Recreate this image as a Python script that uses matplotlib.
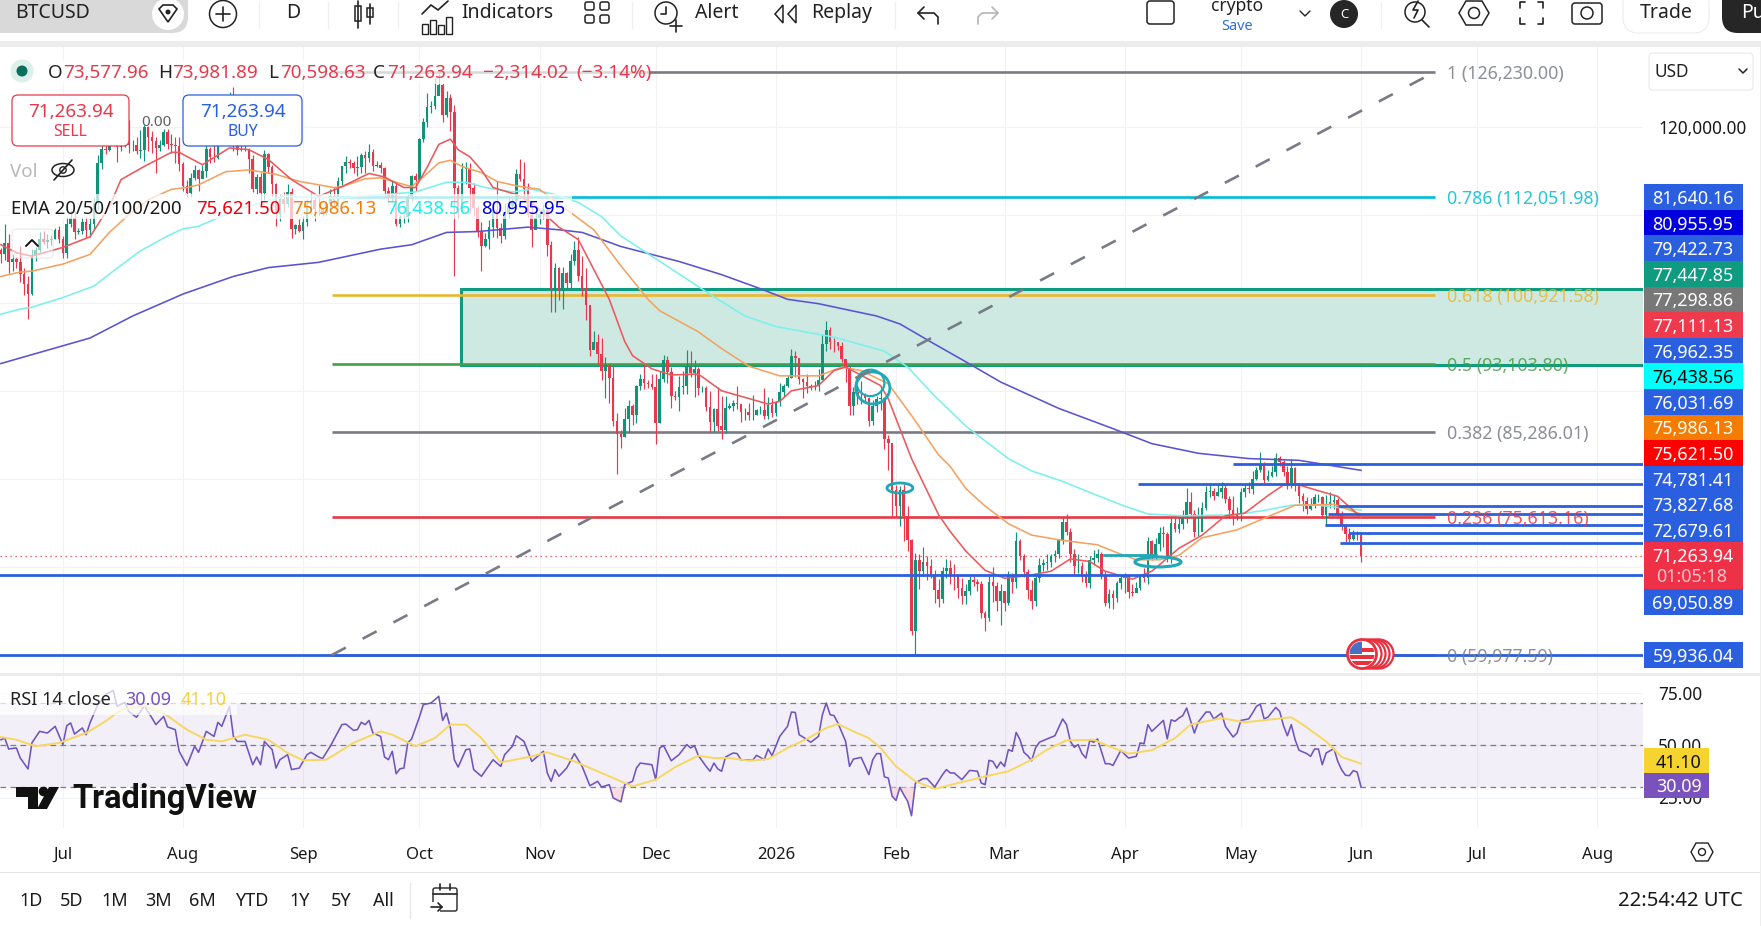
import numpy as np
import matplotlib
matplotlib.use("Agg")
import matplotlib.pyplot as plt
from matplotlib.patches import Rectangle, FancyBboxPatch, Circle, Ellipse, Polygon

plt.rcParams['font.family'] = ['Noto Sans', 'DejaVu Sans']

W, H = 1761, 926

# daily closes in thousand USD, one list per month
close_jun25 = [105.5, 106.8, 104.6, 105.0, 104.6, 103.3, 102.1, 101.0, 105.4, 106.0, 107.3, 106.9, 107.1, 107.3, 108.3, 107.2]
close_jul25 = [105.7, 108.9, 109.6, 108.0, 108.2, 109.2, 108.3, 109.0, 111.3, 115.9, 117.5, 117.4, 119.1, 120.0, 117.7, 118.7, 119.4, 117.9, 117.9, 117.3, 117.4, 120.0, 118.8, 118.4, 117.6, 117.9, 119.4, 118.0, 117.9, 117.8, 115.8]
close_aug25 = [113.3, 112.5, 114.2, 115.1, 114.1, 115.0, 117.5, 116.6, 116.5, 119.3, 118.7, 120.2, 123.3, 118.3, 117.4, 117.5, 117.5, 116.3, 112.9, 114.3, 112.5, 116.9, 115.4, 113.5, 110.1, 111.8, 111.2, 112.6, 108.4, 108.8, 108.2]
close_sep25 = [109.2, 111.2, 111.7, 110.7, 110.7, 110.2, 111.2, 112.1, 111.5, 113.9, 115.5, 116.0, 115.9, 115.3, 115.4, 116.8, 116.5, 117.1, 115.6, 115.7, 115.3, 112.7, 112.0, 113.3, 109.0, 109.7, 109.7, 112.1, 114.4, 114.0]
close_oct25 = [118.6, 120.6, 122.3, 122.4, 123.5, 124.8, 121.4, 123.3, 121.7, 113.0, 110.8, 115.2, 115.3, 113.0, 110.8, 108.2, 106.4, 107.2, 108.6, 110.6, 108.5, 107.6, 110.1, 111.0, 111.6, 114.6, 114.1, 112.9, 110.0, 108.3, 109.6]
close_nov25 = [110.1, 110.6, 106.6, 101.5, 103.9, 101.3, 103.4, 102.3, 104.7, 106.0, 103.0, 101.7, 99.7, 94.6, 95.6, 94.2, 92.2, 92.9, 91.5, 86.6, 85.1, 84.7, 86.8, 88.3, 87.3, 90.5, 91.3, 90.9, 90.8, 90.4]
close_dec25 = [86.3, 91.3, 93.5, 92.1, 89.4, 89.3, 90.4, 90.6, 92.7, 92.0, 92.5, 90.3, 90.3, 88.2, 86.4, 87.9, 86.0, 85.5, 88.1, 88.3, 88.6, 88.5, 87.6, 87.6, 87.2, 87.3, 87.8, 87.8, 87.1, 88.4, 87.5]
close_jan26 = [88.7, 89.9, 90.6, 91.4, 93.9, 93.7, 91.3, 91.0, 90.5, 90.4, 90.6, 91.2, 95.3, 96.9, 95.6, 95.5, 95.1, 93.6, 92.6, 88.3, 89.9, 89.5, 89.5, 89.2, 86.6, 88.3, 89.1, 89.2, 84.5, 84.1, 78.7]
close_feb26 = [76.9, 78.7, 75.8, 73.0, 62.7, 70.8, 69.5, 70.6, 70.1, 69.1, 67.4, 66.3, 69.5, 69.9, 69.1, 68.9, 67.6, 66.7, 67.3, 68.5, 68.3, 68.0, 64.8, 64.2, 68.3, 67.8, 66.1, 67.2]
close_mar26 = [65.9, 69.1, 68.3, 72.9, 71.2, 69.4, 67.4, 66.1, 68.7, 70.2, 70.4, 70.6, 71.2, 71.4, 73.0, 75.1, 74.0, 71.4, 70.1, 70.1, 69.1, 68.2, 70.8, 71.0, 71.5, 69.1, 65.9, 66.9, 66.5, 68.2, 68.7]
close_apr26 = [68.9, 67.1, 67.0, 67.6, 68.9, 68.7, 72.9, 71.2, 72.6, 73.8, 73.7, 70.9, 75.0, 74.3, 74.9, 75.6, 77.4, 76.0, 74.0, 74.0, 76.7, 78.5, 78.6, 78.0, 78.5, 79.0, 77.7, 76.5, 75.8, 76.0]
close_may26 = [78.5, 79.0, 78.8, 80.0, 81.0, 81.7, 79.9, 80.3, 80.8, 82.4, 81.9, 80.8, 79.3, 81.2, 79.3, 78.1, 77.5, 76.6, 76.9, 77.9, 77.9, 75.9, 77.0, 77.4, 77.6, 76.0, 74.6, 73.7, 73.2, 73.6, 73.578]
close_jun26 = [71.264]

high_jun25 = [106.2, 108.9, 107.8, 105.6, 105.2, 106.5, 104.0, 103.0, 106.1, 106.3, 108.0, 108.2, 107.8, 107.7, 108.5, 108.7]
high_jul25 = [107.6, 109.7, 110.5, 110.4, 108.5, 109.7, 109.7, 109.6, 111.9, 116.8, 118.8, 118.0, 119.5, 123.2, 119.9, 120.0, 120.9, 120.8, 118.5, 118.9, 119.6, 120.2, 120.1, 119.5, 118.9, 118.5, 119.8, 119.8, 119.2, 118.8, 118.9]
high_aug25 = [116.0, 114.0, 114.8, 115.7, 115.2, 115.7, 117.9, 117.7, 117.9, 119.3, 122.3, 120.3, 124.0, 124.5, 119.2, 118.0, 118.6, 117.6, 116.8, 114.6, 114.8, 117.4, 117.0, 115.7, 113.6, 112.4, 112.6, 113.5, 113.0, 108.9, 109.5]
high_sep25 = [109.9, 111.8, 112.5, 112.0, 113.4, 110.9, 111.6, 112.9, 113.2, 114.3, 115.6, 116.7, 116.3, 116.1, 116.7, 117.0, 117.3, 118.0, 117.5, 116.1, 116.0, 115.4, 113.2, 114.0, 113.6, 110.0, 110.0, 112.4, 114.5, 114.8]
high_oct25 = [118.7, 121.0, 123.9, 122.9, 125.6, 126.2, 125.0, 124.1, 123.7, 122.5, 113.4, 115.9, 116.0, 115.9, 113.6, 111.0, 109.2, 107.9, 109.4, 111.7, 113.9, 109.1, 111.3, 112.0, 111.9, 115.2, 116.4, 116.0, 113.6, 111.5, 111.1]
high_nov25 = [110.6, 111.2, 110.8, 107.0, 104.5, 104.1, 104.1, 103.5, 105.5, 107.0, 107.5, 105.3, 104.0, 99.8, 96.8, 96.5, 96.0, 93.8, 93.1, 92.8, 87.5, 85.5, 88.1, 89.0, 88.5, 90.7, 91.9, 93.0, 91.2, 91.9]
high_dec25 = [91.9, 92.3, 94.1, 94.0, 92.7, 90.0, 91.7, 92.3, 94.6, 94.5, 93.5, 92.7, 90.6, 90.5, 90.0, 88.1, 90.4, 89.4, 89.4, 88.6, 89.0, 90.5, 88.0, 88.0, 88.6, 89.5, 87.9, 88.3, 90.3, 89.3, 89.2]
high_jan26 = [88.8, 90.9, 90.8, 91.8, 94.8, 94.5, 93.7, 91.5, 91.9, 90.8, 91.1, 92.5, 96.5, 97.9, 97.2, 96.0, 95.6, 95.5, 93.4, 92.8, 90.4, 90.4, 91.1, 89.8, 89.3, 88.9, 89.4, 90.5, 89.3, 85.0, 84.0]
high_feb26 = [79.3, 79.2, 79.4, 76.9, 73.2, 71.6, 71.5, 72.3, 71.2, 70.9, 69.6, 68.6, 70.0, 70.9, 70.8, 70.3, 69.0, 68.7, 68.0, 68.9, 69.0, 68.6, 68.4, 65.0, 69.0, 70.0, 68.3, 68.0]
high_mar26 = [67.3, 69.5, 69.3, 74.0, 73.2, 71.5, 69.8, 68.5, 69.0, 71.0, 70.9, 71.4, 71.5, 71.9, 73.2, 75.6, 76.0, 74.4, 72.0, 71.5, 70.6, 69.5, 71.2, 71.9, 72.0, 71.7, 69.5, 67.5, 67.4, 68.4, 69.0]
high_apr26 = [69.3, 69.0, 68.0, 68.3, 69.2, 69.9, 73.4, 73.0, 73.3, 74.5, 74.6, 73.9, 75.5, 75.9, 75.7, 76.5, 78.9, 78.5, 76.5, 76.8, 77.4, 79.2, 79.4, 79.0, 79.4, 79.6, 79.3, 78.0, 78.0, 76.8]
high_may26 = [78.9, 79.4, 79.6, 80.9, 81.3, 83.0, 81.9, 81.0, 81.4, 82.9, 82.6, 82.1, 81.5, 82.2, 81.3, 79.5, 78.4, 77.9, 77.8, 78.3, 78.3, 78.0, 78.2, 78.5, 78.2, 77.8, 76.3, 74.9, 74.4, 74.2, 74.1]
high_jun26 = [73.982]

low_jun25 = [104.5, 104.9, 103.4, 103.6, 103.9, 102.4, 100.9, 98.2, 100.9, 104.7, 105.8, 106.7, 106.2, 106.6, 107.2, 106.8]
low_jul25 = [105.1, 105.1, 108.6, 107.3, 107.8, 107.8, 107.5, 107.5, 108.4, 110.6, 115.2, 116.9, 117.2, 118.9, 116.0, 117.2, 117.7, 117.0, 117.3, 116.9, 116.5, 116.1, 117.3, 117.0, 114.7, 117.2, 117.8, 117.5, 117.0, 115.9, 115.0]
low_aug25 = [112.7, 112.0, 112.0, 114.0, 112.7, 114.3, 114.3, 115.9, 116.0, 116.3, 118.0, 118.0, 118.9, 117.2, 116.8, 117.2, 117.3, 114.8, 112.6, 112.4, 111.6, 111.7, 114.8, 112.0, 108.7, 109.3, 110.3, 110.9, 107.4, 107.8, 108.0]
low_sep25 = [107.3, 108.7, 110.5, 109.3, 110.0, 109.9, 110.0, 110.7, 110.8, 110.9, 113.4, 114.7, 115.3, 114.8, 114.4, 114.8, 114.7, 116.0, 115.0, 115.4, 114.8, 112.0, 111.5, 111.5, 108.7, 108.6, 109.1, 109.2, 111.6, 112.7]
low_oct25 = [113.9, 118.3, 120.0, 121.6, 122.0, 124.0, 120.6, 121.1, 119.5, 103.0, 109.6, 110.2, 113.5, 110.2, 110.0, 107.5, 103.6, 106.3, 106.1, 107.5, 107.4, 106.8, 107.3, 109.6, 110.8, 111.3, 113.9, 111.5, 109.7, 106.3, 108.6]
low_nov25 = [109.0, 109.5, 105.3, 98.9, 98.9, 100.3, 99.3, 101.5, 101.4, 104.3, 102.5, 100.8, 98.0, 94.0, 94.9, 93.0, 91.2, 89.2, 88.6, 86.0, 80.6, 83.5, 84.7, 85.3, 86.1, 86.3, 90.1, 90.2, 90.3, 90.2]
low_dec25 = [83.9, 86.3, 91.0, 90.9, 88.0, 88.9, 87.7, 89.6, 89.6, 91.6, 89.3, 89.5, 89.9, 87.7, 85.3, 85.3, 85.4, 84.5, 85.2, 87.9, 87.7, 87.9, 86.5, 86.7, 86.7, 86.7, 87.3, 87.4, 86.8, 86.8, 87.0]
low_jan26 = [87.1, 88.3, 89.3, 90.4, 91.5, 91.6, 90.8, 89.2, 89.7, 90.1, 90.1, 90.0, 91.2, 94.5, 94.8, 94.4, 94.6, 93.3, 91.0, 87.3, 87.2, 88.5, 88.5, 88.7, 86.0, 86.1, 87.6, 87.8, 83.4, 81.0, 75.7]
low_feb26 = [75.7, 74.6, 72.9, 71.8, 62.3, 60.0, 67.5, 68.9, 68.5, 68.7, 65.9, 65.4, 65.9, 68.7, 68.0, 67.4, 66.4, 65.8, 65.8, 66.8, 67.8, 67.2, 64.2, 62.7, 63.8, 66.0, 65.0, 63.4]
low_mar26 = [65.0, 65.7, 67.0, 67.6, 70.8, 68.8, 66.3, 65.2, 65.6, 68.3, 69.5, 69.6, 70.0, 70.6, 71.0, 72.6, 73.6, 70.6, 69.1, 69.3, 68.3, 67.7, 67.6, 70.2, 70.6, 68.6, 65.5, 65.3, 65.2, 66.0, 67.5]
low_apr26 = [67.0, 66.5, 66.7, 67.3, 67.4, 68.3, 68.0, 70.8, 70.9, 71.8, 72.2, 70.5, 70.4, 73.9, 73.8, 74.3, 75.0, 75.6, 73.4, 73.5, 75.0, 76.5, 77.9, 77.6, 78.0, 77.8, 77.3, 75.5, 74.8, 75.3]
low_may26 = [75.2, 77.9, 78.4, 78.3, 79.9, 80.8, 79.5, 79.8, 80.2, 80.3, 81.5, 80.3, 78.8, 78.9, 78.6, 77.3, 76.3, 76.0, 76.4, 76.7, 77.4, 75.5, 74.6, 76.7, 76.6, 75.6, 74.2, 72.8, 72.6, 73.1, 73.0]
low_jun26 = [70.599]

first_open = 106.0

# EMAs, as days back from the last candle and thousand USD
ema20_back = [351, 347, 343, 335, 328, 323, 320, 314, 307, 305, 299, 292, 287, 282, 276, 269, 263, 256, 252, 247, 244, 241, 238, 235, 233, 230, 227, 224, 218, 214, 207, 202, 198, 194, 190, 188, 183, 178, 171, 165, 153, 150, 147, 140, 136, 133, 124, 122, 116, 109, 106, 102, 97, 92, 86, 80, 75, 70, 66, 59, 54, 47, 41, 35, 30, 24, 20, 16, 6, 0]
ema20_vals = [106.6, 105.7, 105.3, 106.3, 107.5, 110.95, 114.0, 115.5, 117.1, 117.1, 115.7, 117.6, 117.4, 116.3, 114.0, 112.1, 113.2, 114.7, 114.3, 113.1, 113.1, 115.4, 118.0, 118.6, 117.4, 116.6, 115.1, 113.1, 112.3, 111.4, 108.6, 107.2, 103.8, 100.4, 95.6, 94.0, 92.5, 91.8, 91.9, 90.0, 88.5, 88.8, 90.0, 90.6, 92.3, 92.7, 90.6, 89.1, 82.3, 75.9, 74.0, 71.8, 69.6, 68.7, 69.0, 69.5, 70.9, 70.6, 69.5, 68.6, 69.5, 72.1, 73.6, 75.8, 76.1, 78.1, 79.3, 79.3, 78.0, 75.62]
ema50_back = [351, 346, 343, 335, 328, 323, 318, 313, 307, 303, 300, 293, 287, 280, 274, 265, 263, 257, 253, 249, 245, 242, 238, 235, 232, 227, 223, 218, 212, 205, 198, 191, 184, 181, 171, 165, 158, 150, 140, 134, 129, 122, 116, 109, 106, 102, 97, 91, 85, 77, 68, 63, 58, 52, 47, 41, 32, 24, 17, 7, 0]
ema50_vals = [103.0, 103.5, 103.6, 104.4, 105.5, 108.0, 110.0, 111.7, 112.9, 113.1, 113.4, 114.9, 115.1, 114.6, 113.8, 113.1, 113.2, 114.1, 114.2, 113.7, 113.2, 114.3, 115.9, 116.2, 115.5, 114.8, 113.8, 113.3, 112.9, 110.6, 108.3, 104.2, 100.4, 99.1, 96.7, 94.8, 92.8, 91.7, 91.7, 92.7, 92.3, 90.8, 87.2, 82.7, 81.4, 78.9, 76.9, 74.9, 73.6, 73.0, 72.5, 71.6, 70.8, 70.8, 71.3, 73.3, 74.2, 75.7, 77.0, 77.1, 75.99]
ema100_back = [351, 346, 343, 335, 327, 322, 315, 308, 304, 300, 290, 278, 265, 252, 244, 236, 231, 226, 219, 214, 208, 202, 196, 191, 166, 159, 151, 136, 123, 117, 110, 102, 97, 91, 85, 77, 68, 61, 55, 46, 33, 25, 18, 11, 0]
ema100_vals = [98.7, 99.3, 99.5, 100.6, 101.9, 103.6, 105.9, 107.6, 108.4, 108.7, 110.6, 112.1, 111.9, 112.3, 112.6, 113.7, 113.7, 113.1, 112.6, 112.9, 112.3, 111.4, 109.8, 107.6, 100.4, 98.5, 97.3, 96.1, 94.5, 92.7, 89.4, 86.0, 84.3, 82.3, 80.9, 79.7, 78.1, 76.9, 76.0, 75.8, 75.9, 76.4, 77.0, 77.0, 76.44]
ema200_back = [351, 328, 317, 304, 291, 282, 269, 253, 245, 236, 228, 215, 207, 201, 191, 176, 165, 155, 148, 140, 125, 119, 110, 102, 93, 78, 64, 54, 42, 29, 16, 0]
ema200_vals = [93.1, 96.0, 98.5, 101.0, 103.0, 104.0, 104.6, 106.1, 106.6, 108.0, 108.1, 108.6, 108.3, 108.0, 106.4, 104.7, 103.2, 101.6, 100.4, 99.9, 98.5, 97.6, 95.3, 93.3, 91.0, 88.0, 85.7, 84.0, 82.9, 82.3, 82.1, 80.96]

# RSI and its moving average, day number from the first candle
rsi_days = [0, 1, 2, 4, 5, 7, 8, 10, 12, 14, 16, 17, 18, 19, 21, 22, 23, 25, 27, 29, 30, 32, 33, 35, 37, 39, 40, 42, 43, 45, 46, 48, 50, 51, 53, 55, 56, 57, 59, 60, 61, 63, 65, 66, 67, 68, 70, 71, 72, 74, 75, 77, 79, 80, 82, 83, 85, 88, 89, 91, 92, 93, 94, 95, 96, 98, 99, 100, 101, 102, 103, 104, 105, 106, 108, 109, 111, 113, 114, 115, 116, 117, 118, 120, 121, 122, 124, 127, 129, 130, 132, 133, 135, 137, 140, 141, 142, 143, 144, 146, 148, 150, 152, 154, 155, 157, 158, 160, 161, 163, 164, 165, 168, 169, 170, 171, 173, 175, 177, 178, 179, 180,
            182, 183, 184, 185, 186, 187, 189, 190, 191, 194, 195, 197, 198, 199, 201, 203, 204, 205, 206, 207, 209, 211, 212, 213, 214, 215, 216, 218, 219, 220, 222, 224, 225, 226, 227, 228, 229, 230, 231, 232, 233, 234, 235, 236, 238, 239, 241, 243, 244, 245, 246, 248, 250, 252, 253, 254, 255, 256, 257, 258, 259, 260, 261, 262, 263, 264, 265, 266, 267, 268, 270, 272, 274, 275, 276, 277, 278, 279, 280, 281, 282, 283, 285, 286, 287, 289, 291, 293, 294, 295, 296, 297, 300, 301, 302, 303, 304, 305, 306, 308, 309, 311, 312, 313, 315, 316, 318, 319, 320, 322, 323, 324, 325, 326, 327, 329, 330, 331, 332, 333, 334, 335, 337, 338, 339, 340, 341, 342, 344, 345, 346, 347, 348, 349, 350, 351]
rsi_vals = [52.5, 53.3, 48.1, 48.6, 43.8, 38.6, 51, 56.5, 55.7, 58.9, 50.2, 59.2, 60.5, 55.2, 58.1, 54.9, 60.5, 69.2, 74, 76, 68.4, 70.3, 66, 63.2, 68.7, 62.8, 59.7, 63.6, 58.6, 57.3, 47, 40.2, 49.4, 46.5, 56.5, 54.1, 60.8, 58.9, 68.4, 54.1, 51.7, 51.7, 40.6, 44.3, 40.6, 51.7, 47.8, 39, 43, 45.4, 38.3, 39, 45.4, 46.5, 44.3, 43.5, 49.4, 59.7, 60, 57, 57.3, 60.8, 59.7, 61.7, 55.7, 54.1, 44.3, 43, 47, 36.3, 38.7, 39, 51, 52.9, 63.3, 69.2, 70, 73.2, 61.7, 65.2, 58.1, 43, 39.5, 47.8, 48.1, 38.3, 35.1, 43, 39.8, 45.4, 49.4, 54.4, 51.7, 42.2, 47, 36.7, 32.7, 38.3, 35.1, 39, 45.9, 39.8, 30.6, 32.7, 30, 31.1, 24.8, 22.9, 31.1, 32.7, 39, 41.4, 40.6, 33.5, 48.6, 49.7, 42.5, 45.4, 50.2, 48.6, 49.7, 44.9,
            39.8, 37.5, 41.4, 38.6, 37.5, 44.3, 46.2, 45.9, 43, 42.7, 45.1, 43, 48.1, 44.9, 54.1, 58.9, 65.7, 65.5, 54.9, 53.8, 51.3, 54.1, 64.4, 70, 64.4, 64, 60.5, 51.7, 39.8, 43.3, 44.1, 35.9, 43, 45.9, 45.9, 34.8, 34.3, 25.6, 23.6, 29.8, 26.3, 23.2, 16.3, 31.9, 34, 34, 30, 35.9, 38.3, 36.7, 36.7, 33.5, 37.9, 37.5, 31.9, 31.1, 42.7, 42.2, 39, 41.9, 39.8, 47.8, 47, 56, 52.5, 46.5, 44.9, 42.5, 48.6, 51.3, 52.9, 54.4, 62.4, 59.7, 51.7, 48.9, 50.2, 45.9, 43.8, 52.2, 51.3, 52.9, 41.1, 41.1, 40.3, 47.4, 43.8, 44.6, 51, 50.6, 59.7, 56.5, 61.7, 52.9, 62, 61.3, 62.8, 64, 67.6, 55.7, 60.9, 65.7, 65.7, 62.4, 65.2, 58.9, 53.8, 55.7, 61.7, 62.4, 65.2, 68.4, 69.5, 62.4, 63.3, 67.9, 66, 59.2, 54.4, 59.7, 52.5, 47.5, 45.9, 44.6, 48.1, 48.1, 40.6, 46.2, 48.3, 42.2, 38.2, 35.6, 35.4, 37.8, 37.1, 30.09]
rsi_ma_days = [0, 4, 9, 15, 22, 27, 31, 37, 42, 48, 53, 57, 63, 69, 74, 78, 84, 91, 98, 101, 107, 112, 116, 120, 124, 129, 137, 141, 148, 155, 163, 169, 174, 180, 184, 188, 193, 198, 203, 208, 213, 216, 220, 224, 227, 231, 236, 241, 247, 254, 260, 266, 270, 275, 282, 286, 291, 297, 303, 307, 315, 321, 333, 336, 342, 346, 351]
rsi_ma_vals = [53.8, 52.5, 49.4, 51, 55.7, 61.3, 66.8, 68.7, 65.2, 57.3, 52.5, 51.7, 54.9, 52.5, 46.2, 42.7, 43, 51, 56.5, 54.9, 49.4, 53.3, 59.7, 59.7, 53.3, 41.7, 44.6, 46.5, 42.2, 36.7, 30.3, 33.5, 39.5, 44.9, 43.8, 43.8, 42.5, 43.3, 48.6, 52.9, 58.1, 60, 56.5, 53.3, 48.6, 39.8, 32.7, 29.1, 31.9, 35, 37.5, 43, 47.8, 52.2, 52.5, 49.4, 45.9, 47.5, 53.3, 59.7, 62.8, 60.8, 63.2, 59.7, 51.7, 44.3, 41.1]

month_days = [16, 47, 78, 108, 139, 169, 200, 231, 259, 290, 320, 351, 381, 412]
month_labels = ['Jul', 'Aug', 'Sep', 'Oct', 'Nov', 'Dec', '2026', 'Feb', 'Mar', 'Apr', 'May', 'Jun', 'Jul', 'Aug']

fib_ratios = ['1', '0.786', '0.618', '0.5', '0.382', '0.236', '0']
fib_prices = [126230.00, 112051.98, 100921.58, 93103.80, 85286.01, 75613.16, 59977.59]
fib_colors = ['#787b86', '#00bcd4', '#e9b82f', '#43a047', '#787b86', '#e53945', '#787b86']

level_prices = [81640.16, 79422.73, 76962.35, 76031.69, 74781.41, 73827.68, 72679.61, 69050.89, 59936.04]
level_starts = [318, 293.5, 345, 342.5, 341.7, 348, 345.6, -1, -1]

scale_badges = [('81,640.16', '#2a5fe0', 'white'), ('80,955.95', '#0000dc', 'white'), ('79,422.73', '#2a5fe0', 'white'),
                ('77,447.85', '#0e9b7f', 'white'), ('77,298.86', '#787878', 'white'), ('77,111.13', '#ef3a4e', 'white'),
                ('76,962.35', '#2a5fe0', 'white'), ('76,438.56', '#00ffff', 'black'), ('76,031.69', '#2a5fe0', 'white'),
                ('75,986.13', '#f57c00', 'white'), ('75,621.50', '#ff0000', 'white'), ('74,781.41', '#2a5fe0', 'white'),
                ('73,827.68', '#2a5fe0', 'white'), ('72,679.61', '#2a5fe0', 'white')]

GREEN = '#0f9478'
RED = '#e63a4c'
BLUE = '#2a5fe0'
TEAL = '#1fa8b8'
TOP, BOTTOM, RIGHT = 47, 673, 1643
usd_per_px = 113.64

closes = np.array(close_jun25 + close_jul25 + close_aug25 + close_sep25 + close_oct25 + close_nov25 + close_dec25 + close_jan26 + close_feb26 + close_mar26 + close_apr26 + close_may26 + close_jun26) * 1000
highs = np.array(high_jun25 + high_jul25 + high_aug25 + high_sep25 + high_oct25 + high_nov25 + high_dec25 + high_jan26 + high_feb26 + high_mar26 + high_apr26 + high_may26 + high_jun26) * 1000
lows = np.array(low_jun25 + low_jul25 + low_aug25 + low_sep25 + low_oct25 + low_nov25 + low_dec25 + low_jan26 + low_feb26 + low_mar26 + low_apr26 + low_may26 + low_jun26) * 1000
opens = np.concatenate(([first_open * 1000], closes[:-1]))
days = np.arange(len(closes))
last_day = days[-1]


def pane(x0, y0, x1, y1):
    return fig.add_axes([x0 / W, 1 - y1 / H, (x1 - x0) / W, (y1 - y0) / H])


def label(x, y, text, **kw):
    # Noto sits high in its line box, so nudge it down
    kw.setdefault('va', 'center')
    kw.setdefault('zorder', 6)
    return ui.text(x, y + 2, text, **kw)


def badge(y, text, bg, fg, height=25.6):
    ui.add_patch(Rectangle((1644, y - height / 2), 99, height, color=bg, lw=0, zorder=5))
    label(1693, y, text, color=fg, ha='center', fontsize=12.9)


def icon_line(xs, ys, color='#222222', lw=1.2):
    ui.plot(xs, ys, color=color, lw=lw, solid_capstyle='round', zorder=6)


fig = plt.figure(figsize=(W / 100, H / 100), dpi=100, facecolor='white')

# ---- price pane
ax = pane(0, TOP, RIGHT, BOTTOM)
ax.set_xlim(-0.23, (RIGHT - 0.9) / 3.875)
ax.set_ylim(126230 + (72 - BOTTOM) * usd_per_px, 126230 + (72 - TOP) * usd_per_px)
for s in ax.spines.values():
    s.set_visible(False)
ax.set_xticks(month_days)
ax.set_xticklabels([])
ax.yaxis.tick_right()
ax.set_yticks(range(60000, 130000, 10000))
ax.set_yticklabels([f'{v:,.2f}' if v == 120000 else '' for v in range(60000, 130000, 10000)], fontsize=12.4, color='#1a1a1a')
ax.tick_params(length=0, pad=11)
ax.grid(color='#f1f2f6', lw=0.8)
ax.set_axisbelow(True)

# fibonacci retracement: anchored trend line and levels
fib_start = 85.4
fib_end = last_day + 19
for ratio, price, color in zip(fib_ratios, fib_prices, fib_colors):
    ax.plot([fib_start, fib_end], [price, price], color=color, lw=1.9, zorder=1.5, solid_capstyle='butt')
ax.plot([fib_start, fib_end], [fib_prices[-1], fib_prices[0]], color='#787b86', lw=1.9, ls=(0, (6, 7.2)), zorder=4)

# supply zone
zone_left = (461 - 0.9) / 3.875
ax.add_patch(Rectangle((zone_left, 92950), 500, 101550 - 92950, facecolor='#cde9e2', edgecolor='#0e9b7f', lw=2.2, zorder=1.2))

# candles
up = closes >= opens
colors = np.where(up, GREEN, RED)
ax.vlines(days, lows, highs, colors=colors, lw=0.85, zorder=2)
ax.bar(days, np.abs(closes - opens), bottom=np.minimum(opens, closes), width=0.68, color=colors, lw=0, zorder=2.1)

# moving averages
ax.plot(last_day - np.array(ema200_back), np.array(ema200_vals) * 1000, color='#5b52d2', lw=1.15, zorder=3)
ax.plot(last_day - np.array(ema100_back), np.array(ema100_vals) * 1000, color='#7cf0ec', lw=1.15, zorder=3)
ax.plot(last_day - np.array(ema50_back), np.array(ema50_vals) * 1000, color='#f4a261', lw=1.15, zorder=3)
ax.plot(last_day - np.array(ema20_back), np.array(ema20_vals) * 1000, color='#ea5a5c', lw=1.15, zorder=3)

# horizontal levels drawn by hand
for price, start in zip(level_prices, level_starts):
    ax.plot([start, 500], [price, price], color=BLUE, lw=2.0, zorder=3.5, solid_capstyle='butt')

# brush marks
for center, w, h, brush in [((225, 90320), 8.8, 3640, 2.0), ((224.4, 90900), 7.2, 3000, 1.6),
                            ((232, 78955), 6.7, 1140, 2.0), ((298.6, 70550), 11.9, 1136, 2.2)]:
    ax.add_patch(Ellipse(center, w, h, fill=False, edgecolor=TEAL, lw=brush, zorder=3.8))
ax.plot([284.7, 298], [71342, 71342], color=TEAL, lw=2.0, zorder=3.8)

# last price
ax.axhline(closes[-1], color=RED, lw=0.9, ls=(0, (1, 3)), zorder=1.8)

# ---- RSI pane
rsi_ax = pane(0, 676, RIGHT, 828)
rsi_ax.set_xlim(ax.get_xlim())
rsi_ax.set_ylim(30 - 41 / 2.1, 70 + 27 / 2.1)
for s in rsi_ax.spines.values():
    s.set_visible(False)
rsi_ax.set_xticks(month_days)
rsi_ax.set_xticklabels(month_labels, fontsize=12, color='#1a1a1a')
rsi_ax.get_xticklabels()[6].set_fontweight('bold')
rsi_ax.yaxis.tick_right()
rsi_ax.set_yticks([25, 50, 75])
rsi_ax.set_yticklabels(['25.00', '50.00', '75.00'], fontsize=12.4, color='#1a1a1a')
rsi_ax.tick_params(length=0)
rsi_ax.tick_params(axis='x', pad=13.5)
rsi_ax.tick_params(axis='y', pad=11)
rsi_ax.grid(color='#f1f2f6', lw=0.8)
rsi_ax.set_axisbelow(True)
rsi_ax.axhspan(30, 70, color='#7e57c2', alpha=0.09, lw=0, zorder=1)
for lvl in [70, 50, 30]:
    rsi_ax.axhline(lvl, color='#787b86', lw=0.9, ls=(0, (4.5, 3.5)), zorder=1.5)
rsi_days_arr = np.array(rsi_days, dtype=float)
rsi_vals_arr = np.array(rsi_vals)
rsi_ax.fill_between(rsi_days_arr, rsi_vals_arr, 30, where=rsi_vals_arr < 30, color='#f6c6cc', alpha=0.6, lw=0, interpolate=True, zorder=2)
rsi_ax.plot(rsi_days_arr, rsi_vals_arr, color='#6f55bd', lw=1.15, zorder=3)
rsi_ax.plot(rsi_ma_days, rsi_ma_vals, color='#f6d860', lw=1.4, zorder=3.2)

# ---- screen furniture, in pixel coordinates
ui = fig.add_axes([0, 0, 1, 1], zorder=10)
ui.set_xlim(0, W)
ui.set_ylim(H, 0)
ui.axis('off')
ui.patch.set_alpha(0)

ui.add_patch(Rectangle((0, 41), W, 6, color='#ececec', lw=0))
ui.add_patch(Rectangle((0, 673), W, 2.5, color='#ececec', lw=0))
ui.add_patch(Rectangle((0, 871.5), W, 1.2, color='#e6e6e6', lw=0))
ui.add_patch(Rectangle((1759.5, 47), 1.5, 880, color='#eeeeee', lw=0))

# washed rows under the legends
ui.add_patch(Rectangle((38, 60), 612, 24, color='white', alpha=0.72, lw=0, zorder=1))
ui.add_patch(Rectangle((0, 194), 572, 25, color='white', alpha=0.72, lw=0, zorder=1))
ui.add_patch(Rectangle((0, 688), 237, 27, color='white', alpha=0.72, lw=0, zorder=1))

# toolbar
ui.add_patch(FancyBboxPatch((-20, -20), 208, 53, boxstyle='round,pad=0,rounding_size=16', facecolor='#d9d9d9', edgecolor='none'))
label(15, 11, 'BTCUSD', fontsize=14, color='#222222')
ui.add_patch(Circle((168, 14), 16, color='white', lw=0))
ui.add_patch(Polygon([(159, 9), (163, 5), (173, 5), (177, 9), (168, 22)], fill=False, edgecolor='#222222', lw=1.2))
ui.add_patch(Circle((168, 12), 2.5, color='#222222', lw=0))
ui.add_patch(Circle((223, 14), 13.5, fill=False, edgecolor='#222222', lw=1.1))
icon_line([223, 223], [7, 21])
icon_line([216, 230], [14, 14])
for sx in [259, 328, 398, 632, 895, 1381]:
    icon_line([sx, sx], [2, 28], color='#f0f0f0', lw=1)
label(293, 11, 'D', fontsize=14, color='#222222', ha='center')
for cx, y0, y1, w0, w1 in [(358, 3, 22, 6, 19), (370, 6, 18, 8, 15)]:
    ui.add_patch(Rectangle((cx - 3, w0), 6, w1 - w0 + 2, fill=False, edgecolor='#222222', lw=1.1))
    icon_line([cx, cx], [y0 - 2, y1 + 6])
for bx, bt in [(422, 16), (430, 12), (438, 17), (446, 9)]:
    ui.add_patch(Rectangle((bx, bt + 8), 6, 26 - bt, fill=False, edgecolor='#222222', lw=1))
icon_line([422, 431, 438, 448], [14, 5, 10, 1])
label(461, 11, 'Indicators', fontsize=14, color='#222222')
for gx, gy in [(585, 2), (600, 2), (585, 15), (600, 15)]:
    ui.add_patch(FancyBboxPatch((gx, gy), 9, 8, boxstyle='round,pad=0,rounding_size=2', fill=False, edgecolor='#222222', lw=1.1))
ui.add_patch(Circle((666, 13), 11, fill=False, edgecolor='#222222', lw=1.1))
icon_line([666, 666, 661], [7, 14, 14])
icon_line([670, 682], [26, 26])
icon_line([676, 676], [20, 32])
label(695, 11, 'Alert', fontsize=14, color='#222222')
ui.add_patch(Polygon([(783, 5), (775, 14), (783, 23)], fill=False, edgecolor='#222222', lw=1.1))
ui.add_patch(Polygon([(796, 5), (788, 14), (796, 23)], fill=False, edgecolor='#222222', lw=1.1))
label(811, 11, 'Replay', fontsize=14, color='#222222')
icon_line([924, 918, 924], [7, 13, 19])
icon_line([918, 934, 938, 938], [13, 13, 17, 24])
icon_line([992, 998, 992], [7, 13, 19], color='#b5b5b5')
icon_line([998, 982, 978, 978], [13, 13, 17, 24], color='#b5b5b5')
ui.add_patch(FancyBboxPatch((1147, 1), 27, 23, boxstyle='round,pad=0,rounding_size=3', fill=False, edgecolor='#222222', lw=1.1))
label(1237, 4, 'crypto', fontsize=12.6, color='#222222', ha='center')
label(1237, 24, 'Save', fontsize=10.5, color='#2f6fe0', ha='center')
icon_line([1300, 1305, 1310], [11, 16, 11], lw=1)
ui.add_patch(Circle((1344, 14), 14, color='#262626', lw=0))
label(1344, 12, 'C', fontsize=9.5, color='white', ha='center')
ui.add_patch(Circle((1415, 12), 10, fill=False, edgecolor='#222222', lw=1.1))
icon_line([1422, 1429], [20, 27])
icon_line([1418, 1413, 1418, 1414], [1, 10, 10, 18])
ui.add_patch(Polygon([(1459, 13), (1466, 1), (1482, 1), (1489, 13), (1482, 25), (1466, 25)], fill=False, edgecolor='#222222', lw=1.1))
ui.add_patch(Circle((1474, 13), 5.5, fill=False, edgecolor='#222222', lw=1.1))
for sx, sy in [(1520, 2), (1543, 2), (1520, 24), (1543, 24)]:
    dx = 5 if sx < 1530 else -5
    dy = 6 if sy < 10 else -6
    icon_line([sx + dx, sx, sx], [sy, sy, sy + dy])
ui.add_patch(FancyBboxPatch((1572, 3), 30, 21, boxstyle='round,pad=0,rounding_size=3', fill=False, edgecolor='#222222', lw=1.1))
ui.add_patch(Circle((1587, 13), 6, fill=False, edgecolor='#222222', lw=1.1))
ui.add_patch(FancyBboxPatch((1623, -15), 86, 48, boxstyle='round,pad=0,rounding_size=16', facecolor='white', edgecolor='#ededed', lw=0.8))
label(1666, 11, 'Trade', fontsize=14, color='#222222', ha='center')
ui.add_patch(FancyBboxPatch((1722, -15), 60, 48, boxstyle='round,pad=0,rounding_size=16', facecolor='#262626', edgecolor='none'))
label(1741, 11, 'Pu', fontsize=14, color='white')

# legend rows
ui.add_patch(Circle((22, 71), 11.5, color='#dcefeb', lw=0))
ui.add_patch(Circle((22, 71), 5.5, color='#0a6e5c', lw=0))
header = [(48, 'O', '#222222'), (63, '73,577.96', RED), (158, 'H', '#222222'), (172, '73,981.89', RED), (268, 'L', '#222222'),
          (280, '70,598.63', RED), (373, 'C', '#222222'), (387, '71,263.94', RED), (483, '\u22122,314.02', RED), (576, '(\u22123.14%)', RED)]
for hx, txt, col in header:
    label(hx, 71, txt, fontsize=13.6, color=col)

for x0, w, col, tag in [(12, 117, RED, 'SELL'), (183, 119, BLUE, 'BUY')]:
    ui.add_patch(FancyBboxPatch((x0, 95), w, 51, boxstyle='round,pad=0,rounding_size=6', facecolor='white', edgecolor=col, lw=0.9, zorder=3))
    label(x0 + w / 2, 110, '71,263.94', fontsize=13.6, color=col, ha='center')
    label(x0 + w / 2, 130, tag, fontsize=11.4, color=col, ha='center')
label(156, 121, '0.00', fontsize=11, color='#444444', ha='center', alpha=0.85)

label(10, 170, 'Vol', fontsize=13.5, color='#b8b8b8')
ui.add_patch(Ellipse((63, 170), 22, 13, fill=False, edgecolor='#222222', lw=1.1, zorder=6))
ui.add_patch(Circle((63, 170), 3.2, fill=False, edgecolor='#222222', lw=1, zorder=6))
icon_line([54, 72], [180, 160])

label(11, 207, 'EMA 20/50/100/200', fontsize=13.4, color='#1a1a1a')
for ex, txt, col in [(196, '75,621.50', '#e8000e'), (292, '75,986.13', '#f57c00'), (386, '76,438.56', '#19f0f0'), (481, '80,955.95', '#0000dc')]:
    label(ex, 207, txt, fontsize=13.4, color=col)

ui.add_patch(FancyBboxPatch((12, 229), 41, 29, boxstyle='round,pad=0,rounding_size=4', facecolor='white', alpha=0.55, edgecolor='#d5d5d5', lw=0.8, zorder=3))
icon_line([26, 32, 38], [246, 240, 246], color='#111111', lw=1.4)

# fibonacci labels
for price, ratio, color in zip(fib_prices, fib_ratios, fib_colors):
    label(1447, 72 + (126230 - price) / usd_per_px, f'{ratio} ({price:,.2f})', fontsize=12.8, color=color, alpha=0.85, zorder=2)

# price scale
ui.add_patch(FancyBboxPatch((1649, 53), 104, 37, boxstyle='round,pad=0,rounding_size=4', facecolor='white', edgecolor='#e8e8e8', lw=0.8, zorder=4))
label(1654, 70, 'USD', fontsize=12.4, color='#222222')
icon_line([1739, 1743, 1747], [69, 73, 69], lw=1.1)
for i, (txt, bg, fg) in enumerate(scale_badges):
    badge(197 + i * 25.6, txt, bg, fg)
ui.add_patch(Rectangle((1644, 542), 99, 48, color='#ef3148', lw=0, zorder=5))
label(1693, 555, '71,263.94', color='white', ha='center', fontsize=12.9)
label(1692, 575, '01:05:18', color='#fbc3c9', ha='center', fontsize=12.9)
badge(602, '69,050.89', BLUE, 'white')
badge(655, '59,936.04', BLUE, 'white')
ui.add_patch(Rectangle((1644, 748), 65, 25, color='#f7d330', lw=0, zorder=5))
label(1679, 760.5, '41.10', color='#111111', ha='center', fontsize=12.9)
ui.add_patch(Rectangle((1644, 773), 65, 25, color='#7a52bd', lw=0, zorder=5))
label(1679, 785.5, '30.09', color='white', ha='center', fontsize=12.9)

# event flags on the time line
for fx in [1379, 1375, 1371, 1367]:
    ui.add_patch(Circle((fx, 654), 14.5, facecolor='white', edgecolor='#e8303f', lw=1.6, zorder=4))
flag_edge = Circle((1362, 654), 14.5, facecolor='white', edgecolor='#e8303f', lw=2, zorder=4)
ui.add_patch(flag_edge)
for sy in [648, 655, 661]:
    stripe = Rectangle((1346, sy), 32, 3.5, color='#e8303f', lw=0, zorder=4.1)
    ui.add_patch(stripe)
    stripe.set_clip_path(Circle((1362, 654), 12.5, transform=ui.transData))
canton = Rectangle((1348, 641), 14, 13, color='#4a6fc0', lw=0, zorder=4.2)
ui.add_patch(canton)
canton.set_clip_path(Circle((1362, 654), 12.5, transform=ui.transData))

# RSI legend and watermark
label(10, 698, 'RSI 14 close', fontsize=13, color='#222222')
label(125, 698, '30.09', fontsize=13, color='#7a52bd')
label(181, 698, '41.10', fontsize=13, color='#f4d03f')
ui.add_patch(Polygon([(16, 787), (38, 787), (38, 809), (28, 809), (28, 797), (16, 797)], color='#111111', lw=0, zorder=6))
ui.add_patch(Circle((43.5, 791.5), 4.8, color='#111111', lw=0, zorder=6))
ui.add_patch(Polygon([(49, 787), (59, 787), (47, 809), (37, 809)], color='#111111', lw=0, zorder=6))
ui.text(72, 799, 'TradingView', fontsize=23.5, fontweight='bold', family='Roboto', color='#111111', va='center', zorder=6)

ui.add_patch(Polygon([(1691, 852), (1696, 843), (1708, 843), (1713, 852), (1708, 861), (1696, 861)], fill=False, edgecolor='#222222', lw=1))
ui.add_patch(Circle((1702, 852), 3.5, fill=False, edgecolor='#222222', lw=1))

# range buttons
for rx, txt in [(31, '1D'), (72, '5D'), (115, '1M'), (159, '3M'), (202, '6M'), (252, 'YTD'), (300, '1Y'), (341, '5Y'), (383, 'All')]:
    label(rx, 899, txt, fontsize=13, color='#1a1a1a', ha='center')
icon_line([410, 410], [883, 918], color='#e8e8e8', lw=1)
ui.add_patch(FancyBboxPatch((433, 888), 24, 23, boxstyle='round,pad=0,rounding_size=2', fill=False, edgecolor='#222222', lw=1))
ui.add_patch(Rectangle((428, 902), 12, 11, color='white', lw=0, zorder=3))
icon_line([433, 457], [894, 894])
icon_line([440, 440], [884, 890])
icon_line([450, 450], [884, 890])
icon_line([431, 442], [907, 907])
icon_line([438, 442, 438], [903, 907, 911])
label(1743, 899, '22:54:42 UTC', fontsize=14.6, color='#1a1a1a', ha='right')

fig.savefig('out.png', dpi=100)
